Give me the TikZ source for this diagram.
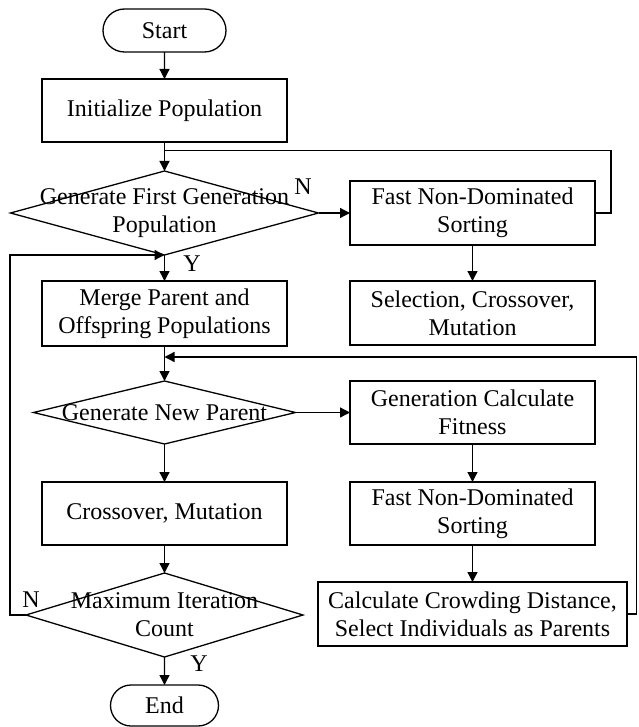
\documentclass[tikz,border=0pt]{standalone}
\usepackage{fontspec}
\setmainfont{Liberation Serif}
\usetikzlibrary{arrows.meta,shapes.geometric,shapes.misc}
\begin{document}
\begin{tikzpicture}[x=1pt,y=-1pt,
  every node/.style={font=\fontsize{24}{28}\selectfont, inner sep=0pt, outer sep=0pt, align=center},
  box/.style={draw, line width=1.3pt, rectangle, minimum width=245pt, minimum height=64pt},
  term/.style={draw, line width=1.3pt, rounded rectangle},
  dia/.style={draw, line width=1.3pt, diamond},
  conn/.style={line width=1.3pt},
  arr/.style={conn, -{Triangle[length=10pt,width=10pt]}}]
\useasboundingbox (0,0) rectangle (638,727);

\node[term, minimum width=123pt, minimum height=43pt] (start) at (164.5,30.5) {Start};
\node[box, minimum height=63pt] (init) at (164.5,110.5) {Initialize Population};
\node[dia, minimum width=308pt, minimum height=84pt] (d1) at (164.5,213) {};
\node (d1t) at (164.5,213) {Generate First Generation\\Population};
\node[box] (fnds1) at (472.5,213) {Fast Non-Dominated\\Sorting};
\node[box] (sel) at (472.5,313) {Selection, Crossover,\\Mutation};
\node[box, minimum height=65pt] (merge) at (164.5,313.5) {Merge Parent and\\Offspring Populations};
\node[dia, minimum width=262pt, minimum height=63pt] (d2) at (164.5,412.5) {};
\node (d2t) at (164.5,412.5) {Generate New Parent};
\node[box, minimum height=63pt] (gcf) at (472.5,412.5) {Generation Calculate\\Fitness};
\node[box, minimum height=63pt] (cross) at (164.5,513.5) {Crossover, Mutation};
\node[box, minimum height=63pt] (fnds2) at (472.5,513.5) {Fast Non-Dominated\\Sorting};
\node[dia, minimum width=277pt, minimum height=84pt] (d3) at (164.5,615) {};
\node (d3t) at (164.5,615) {Maximum Iteration\\Count};
\node[box, minimum width=309pt] (calc) at (472.5,614) {Calculate Crowding Distance,\\Select Individuals as Parents};
\node[term, minimum width=108pt, minimum height=41pt] (end) at (164.5,705.5) {End};

\coordinate (j1) at (164.5,150.5);
\coordinate (j2) at (164.5,357);

\draw[arr] (start) -- (init);
\draw[arr] (init) -- (d1);
\draw[conn] (fnds1.east) -- ++(16,0) |- (j1);
\draw[arr] (d1) -- (fnds1);
\node (n1) at (303,187) {N};
\draw[arr] (fnds1) -- (sel);
\draw[arr] (d1) -- (merge);
\node (y1) at (192,264) {Y};
\draw[arr] (d3.west) -- ++(-16,0) |- (d1.south);
\node (n3) at (31,600) {N};
\draw[arr] (merge) -- (d2);
\draw[arr] (calc.east) -- ++(9.5,0) |- (j2);
\draw[arr] (d2) -- (gcf);
\draw[arr] (d2) -- (cross);
\draw[arr] (gcf) -- (fnds2);
\draw[arr] (fnds2) -- (calc);
\draw[arr] (cross) -- (d3);
\draw[arr] (d3) -- (end);
\node (y3) at (199,664) {Y};
\end{tikzpicture}
\end{document}
